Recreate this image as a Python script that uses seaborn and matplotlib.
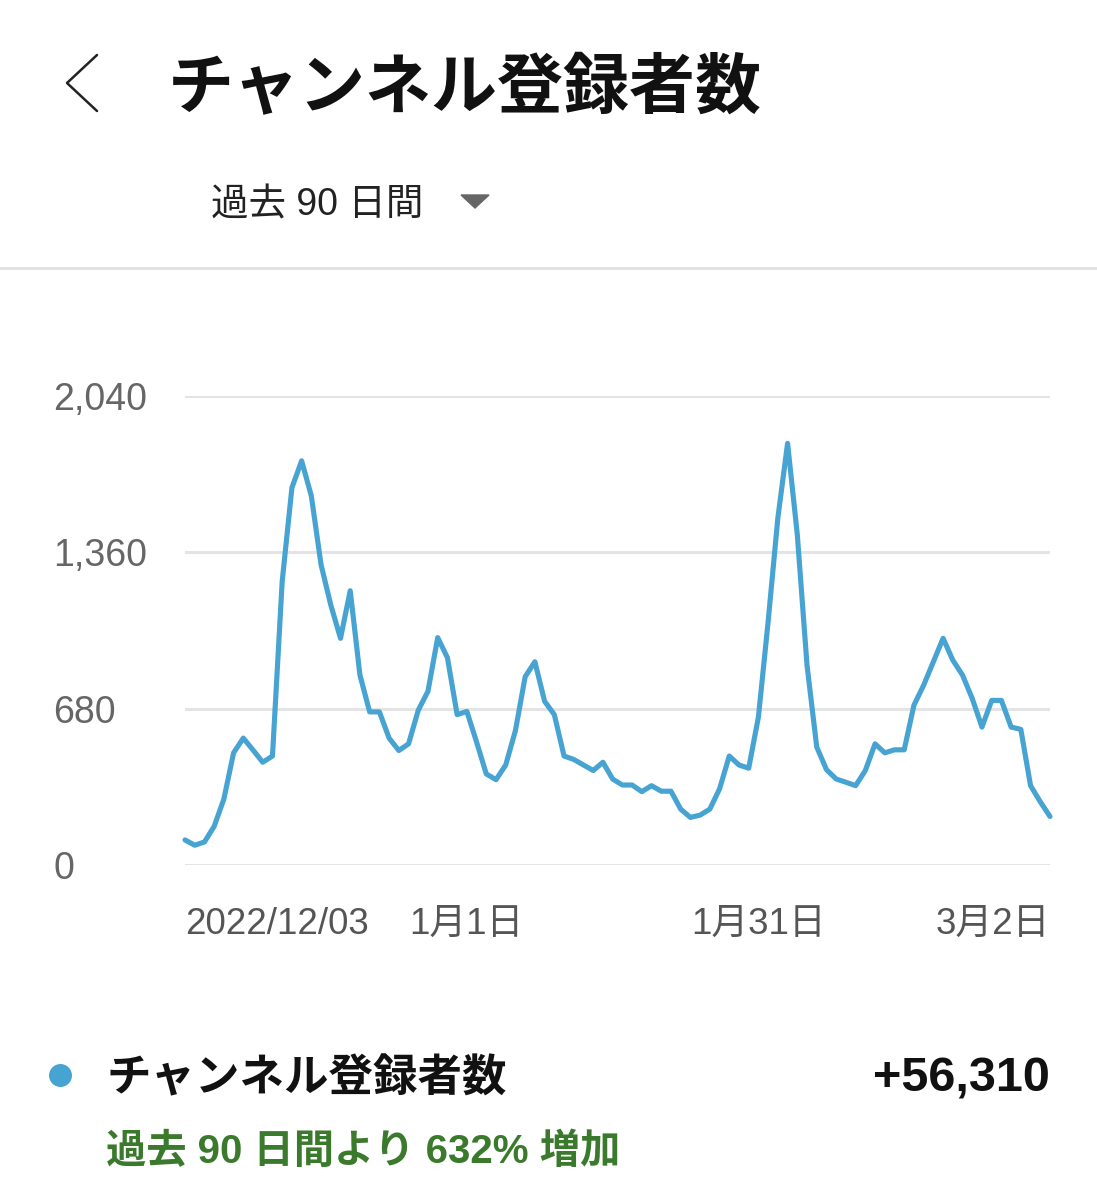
import pandas as pd
import seaborn as sns
import matplotlib.pyplot as plt
from matplotlib.lines import Line2D
from matplotlib.patches import Polygon

# daily new subscribers, 90 days from 2022/12/03 to 3/2
subscribers = [
    109, 86, 100, 168, 287, 488, 552, 500, 447, 474,
    1234, 1641, 1758, 1605, 1306, 1131, 986, 1193, 826, 666,
    666, 552, 498, 527, 673, 756, 989, 902, 654, 668,
    535, 396, 371, 435, 585, 819, 884, 712, 654, 474,
    459, 435, 411, 447, 374, 348, 348, 319, 345, 321,
    321, 243, 207, 217, 243, 331, 474, 435, 421, 644,
    1059, 1510, 1834, 1437, 869, 513, 415, 374, 360, 345,
    411, 527, 488, 501, 501, 695, 782, 884, 986, 891,
    826, 724, 600, 716, 716, 600, 590, 345, 275, 211,
]
y_ticks = [0, 680, 1360, 2040]
y_labels = ['0', '680', '1,360', '2,040']
x_ticks = [0, 29, 59, 89]
x_labels = ['2022/12/03', '1月1日', '1月31日', '3月2日']

title = 'チャンネル登録者数'
period = '過去 90 日間'
total = '+56,310'
change = '過去 90 日間より 632% 増加'

LINE = '#47a3d1'
GRID = '#e4e4e4'

sns.set_theme(style='white')
plt.rcParams['font.family'] = ['Liberation Sans', 'Noto Sans CJK JP']

df = pd.DataFrame({'day': range(len(subscribers)), 'subs': subscribers})

W, H = 1097, 1200
fig = plt.figure(figsize=(W / 100, H / 100), dpi=100)
ax = fig.add_axes([185 / W, 1 - 865 / H, 865 / W, 469 / H])

sns.lineplot(data=df, x='day', y='subs', ax=ax, color=LINE, linewidth=3.7,
             clip_on=False, zorder=3)

ax.set_xlim(0, 89)
ax.set_ylim(0, 2040)
ax.set_xlabel('')
ax.set_ylabel('')
for s in ax.spines.values():
    s.set_visible(False)

ax.set_yticks(y_ticks, y_labels)
ax.grid(axis='y', color=GRID, linewidth=2.2)
ax.grid(axis='x', visible=False)
ax.tick_params(axis='y', length=0, pad=95, labelsize=27, labelcolor='#666666')
for t in ax.get_yticklabels():
    t.set_horizontalalignment('left')

ax.set_xticks(x_ticks, x_labels)
ax.tick_params(axis='x', length=0, pad=30, labelsize=26.5, labelcolor='#555555')
xl = ax.get_xticklabels()
xl[0].set_horizontalalignment('left')
xl[-1].set_horizontalalignment('right')

# header
fig.add_artist(Line2D([97 / W, 67 / W, 97 / W],
                      [1 - 55 / H, 1 - 83 / H, 1 - 111 / H],
                      color='#222222', linewidth=1.8))
fig.text(168 / W, 1 - 91 / H, title, fontsize=47.5, fontweight='bold',
         color='#111111', va='center', ha='left')
fig.text(211 / W, 1 - 205 / H, period, fontsize=27, color='#222222',
         va='center', ha='left')
fig.add_artist(Polygon([[461 / W, 1 - 195 / H], [489 / W, 1 - 195 / H],
                        [475 / W, 1 - 208 / H]], closed=True,
                       color='#666666', transform=fig.transFigure))
fig.add_artist(Line2D([0, 1], [1 - 268 / H, 1 - 268 / H],
                      color='#e2e2e2', linewidth=2.2))

# legend / summary
fig.add_artist(Line2D([60 / W], [1 - 1075 / H], marker='o', markersize=15.5,
                      color=LINE, linestyle='none'))
fig.text(107 / W, 1 - 1079 / H, title, fontsize=32, fontweight='bold',
         color='#111111', va='center', ha='left')
fig.text(1050 / W, 1 - 1079 / H, total, fontsize=35, fontweight='bold',
         color='#111111', va='center', ha='right')
fig.text(106 / W, 1 - 1152 / H, change, fontsize=29, fontweight='bold',
         color='#3b7a2c', va='center', ha='left')

fig.savefig('out.png', dpi=100)
